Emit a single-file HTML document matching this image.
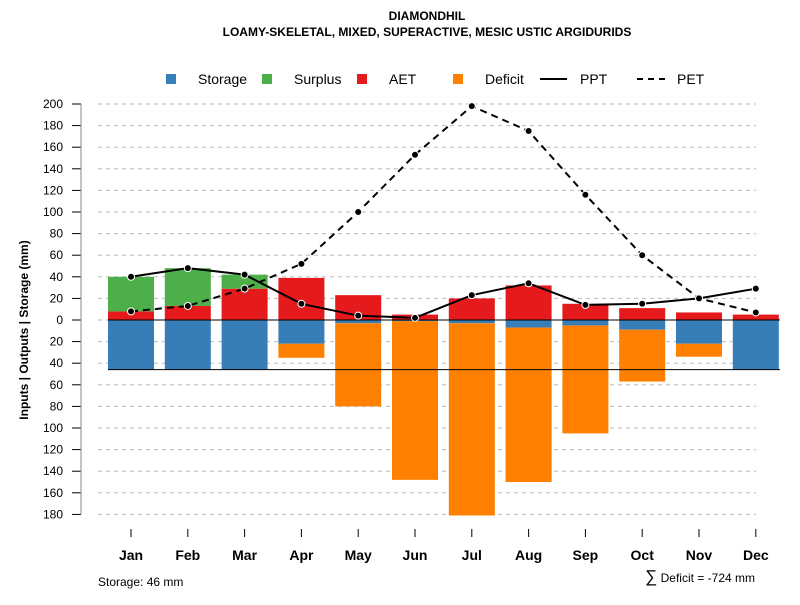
<!DOCTYPE html>
<html><head><meta charset="utf-8"><style>
body{margin:0;background:#fff;font-family:"Liberation Sans",sans-serif}
</style></head><body>
<svg id="chart" width="800" height="600" xmlns="http://www.w3.org/2000/svg" font-family="Liberation Sans, sans-serif">
<text x="427" y="20" font-size="12" font-weight="bold" text-anchor="middle">DIAMONDHIL</text>
<text x="427" y="36" font-size="12" font-weight="bold" text-anchor="middle">LOAMY-SKELETAL, MIXED, SUPERACTIVE, MESIC USTIC ARGIDURIDS</text>
<g font-size="14">
<rect x="166" y="74" width="10" height="10" fill="#377EB8"/><text x="198" y="84">Storage</text>
<rect x="262" y="74" width="10" height="10" fill="#4DAF4A"/><text x="294" y="84">Surplus</text>
<rect x="357" y="74" width="10" height="10" fill="#E41A1C"/><text x="389" y="84">AET</text>
<rect x="453" y="74" width="10" height="10" fill="#FF7F00"/><text x="485" y="84">Deficit</text>
<line x1="540" y1="79" x2="567" y2="79" stroke="#000" stroke-width="2"/><text x="580" y="84">PPT</text>
<line x1="637" y1="79" x2="665" y2="79" stroke="#000" stroke-width="2" stroke-dasharray="6,5"/><text x="677" y="84">PET</text>
</g>
<text transform="translate(28,330) rotate(-90)" font-size="12" font-weight="bold" text-anchor="middle">Inputs | Outputs | Storage    (mm)</text>
<text x="98" y="586" font-size="12">Storage: 46 mm</text>
<text x="755" y="582" font-size="12" text-anchor="end"><tspan font-size="17">∑</tspan> Deficit = -724 mm</text>
<g id="grid"></g><g id="bars"></g><g id="lines"></g><g id="axes"></g>
</svg>
<script>
const months=["Jan","Feb","Mar","Apr","May","Jun","Jul","Aug","Sep","Oct","Nov","Dec"];
const storage=[46,46,46,22,3,1,3,7,5,9,22,46];
const deficit=[0,0,0,13,77,147,178,143,100,48,12,0];
const aet=[8,13,29,39,23,5,20,32,15,11,7,5];
const surplus=[32,35,13,0,0,0,0,0,0,0,0,0];
const ppt=[40,48,42,15,4,2,23,34,14,15,20,29];
const pet=[8,13,29,52,100,153,198,175,116,60,20,7];
const yTicks=[200,180,160,140,120,100,80,60,40,20,0,20,40,60,80,100,120,140,160,180];
const yVals=[200,180,160,140,120,100,80,60,40,20,0,-20,-40,-60,-80,-100,-120,-140,-160,-180];
const storageCap=46;
const NS="http://www.w3.org/2000/svg";
const y=v=>320-v*1.08;
const x=i=>131+i*56.8;
const bw=46;
function mk(tag,attrs,parent){const e=document.createElementNS(NS,tag);for(const k in attrs)e.setAttribute(k,attrs[k]);document.getElementById(parent).appendChild(e);return e;}
yVals.forEach((v,i)=>{
 const g=mk('line',{x1:98,x2:756,y1:y(v),y2:y(v),stroke:'#bbb','stroke-dasharray':'4,4'},'grid');
 
 
 const t=mk('line',{x1:72,x2:81,y1:y(v),y2:y(v),stroke:'#000'},'axes');
 
 
 const l=mk('text',{x:63,y:y(v)+4,'font-size':12,'text-anchor':'end'},'axes');l.textContent=yTicks[i];
 
 
});
const ax=mk('line',{x1:81,x2:81,y1:y(200),y2:y(-180),stroke:'#888'},'axes');


months.forEach((m,i)=>{
 const cx=x(i);
 function bar(v0,v1,fill,name){const a=Math.min(y(v0),y(v1)),h=Math.abs(y(v0)-y(v1));if(h<=0)return;const r=mk('rect',{x:cx-bw/2,y:a,width:bw,height:h,fill:fill},'bars');}
 bar(0,-storage[i],'#377EB8','bar-storage-'+m.toLowerCase());
 bar(-storage[i],-storage[i]-deficit[i],'#FF7F00','bar-deficit-'+m.toLowerCase());
 bar(0,aet[i],'#E41A1C','bar-aet-'+m.toLowerCase());
 bar(aet[i],aet[i]+surplus[i],'#4DAF4A','bar-surplus-'+m.toLowerCase());
 const t=mk('line',{x1:cx,x2:cx,y1:529,y2:537,stroke:'#000'},'axes');
 
 
 const l=mk('text',{x:cx,y:560,'font-size':14,'font-weight':'bold','text-anchor':'middle'},'axes');l.textContent=m;
 
 
});
const z=mk('line',{x1:108,x2:780,y1:y(0),y2:y(0),stroke:'#000'},'lines');


const s=mk('line',{x1:108,x2:780,y1:y(-storageCap),y2:y(-storageCap),stroke:'#000'},'lines');


function series(arr,dash,name){
 const p=mk('polyline',{points:arr.map((v,i)=>x(i)+','+y(v)).join(' '),fill:'none',stroke:'#000','stroke-width':2,'stroke-dasharray':dash},'lines');
 
 
 arr.forEach((v,i)=>{const c=mk('circle',{cx:x(i),cy:y(v),r:3.5,fill:'#000',stroke:'#fff','stroke-width':1},'lines');
 
 });
}
series(pet,'7,5','pet');
series(ppt,'none','ppt');
</script>
</body></html>
